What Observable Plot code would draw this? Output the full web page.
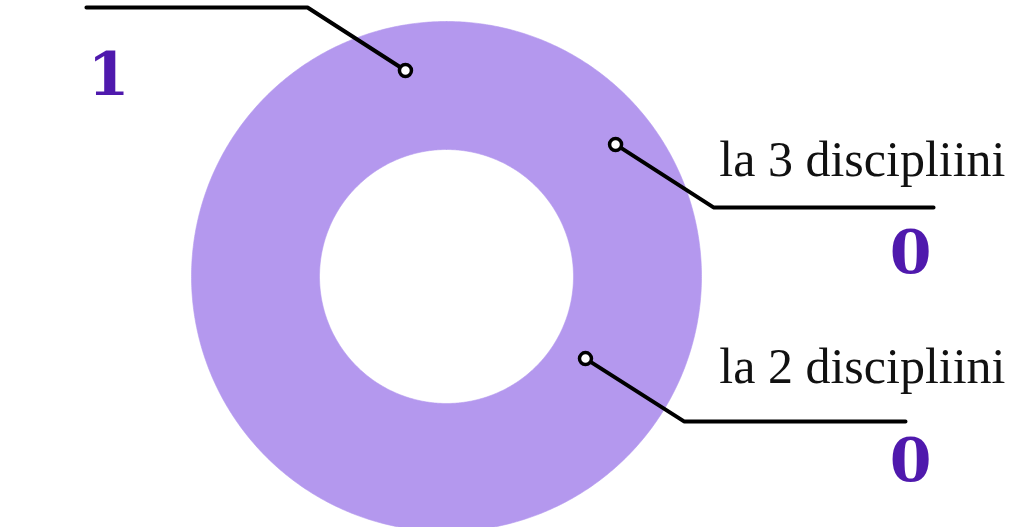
<!DOCTYPE html>
<html><head><meta charset="utf-8">
<script src="https://cdn.jsdelivr.net/npm/d3@7"></script>
<script src="https://cdn.jsdelivr.net/npm/@observablehq/plot@0.6"></script>
<style>html,body{margin:0;padding:0;background:#fff;overflow:hidden}#chart svg{display:block}</style>
</head><body><div id="chart"></div>
<script>
// ---- data ----
const categories = ["la 1 disciplină", "la 3 discipliini", "la 2 discipliini"];
const values = [1, 0, 0];
const valueLabels = ["1", "0", "0"];
const sliceColors = ["#b498ee", "#8f6fe0", "#6c46cf"];

// ---- callout layout (units of outer radius, origin at donut centre, y up) ----
const anchorX = [-0.161, 0.663, 0.545];
const anchorY = [0.808, 0.518, -0.322];
const elbowX = [-0.545, 1.047, 0.933];
const elbowY = [1.055, 0.271, -0.569];
const endX = [-1.412, 1.910, 1.800];
const endY = [1.055, 0.271, -0.569];
const labelX = [-1.45, 2.192, 2.192];
const labelY = [1.20, 0.396, -0.416];
const numberX = [-1.325, 1.820, 1.820];
const numberY = [0.710, 0.012, -0.800];
const showLabel = [false, true, true];

const outerR = 1, innerR = 0.498;

// donut slices via d3.pie
const pie = d3.pie().sort(null).value(v => v)(values);
const ring = [];
pie.forEach((s, i) => {
  if (s.endAngle - s.startAngle <= 0) return;
  const n = Math.max(2, Math.ceil((s.endAngle - s.startAngle) / (Math.PI / 360)));
  for (let k = 0; k <= n; k++) {
    const a = s.startAngle + (s.endAngle - s.startAngle) * k / n;
    ring.push({cat: categories[i], color: sliceColors[i], x: outerR * Math.sin(a), y: outerR * Math.cos(a)});
  }
  for (let k = n; k >= 0; k--) {
    const a = s.startAngle + (s.endAngle - s.startAngle) * k / n;
    ring.push({cat: categories[i], color: sliceColors[i], x: innerR * Math.sin(a), y: innerR * Math.cos(a)});
  }
});

const callouts = [];
categories.forEach((c, i) => {
  callouts.push({cat: c, x: anchorX[i], y: anchorY[i]});
  callouts.push({cat: c, x: elbowX[i], y: elbowY[i]});
  callouts.push({cat: c, x: endX[i], y: endY[i]});
});
const rows = categories.map((c, i) => ({cat: c, value: values[i], vlabel: valueLabels[i],
  ax: anchorX[i], ay: anchorY[i], lx: labelX[i], ly: labelY[i], nx: numberX[i], ny: numberY[i], show: showLabel[i]}));

const R = 255, cx = 446, cy = 276, W = 1018, H = 527;
const chart = Plot.plot({
  width: W, height: H, margin: 0,
  x: {domain: [-cx / R, (W - cx) / R], axis: null},
  y: {domain: [-(H - cy) / R, cy / R], axis: null},
  marks: [
    Plot.line(ring, {x: "x", y: "y", z: "cat", fill: "color", stroke: "color", strokeWidth: 0.6, curve: "linear"}),
    Plot.line(callouts, {x: "x", y: "y", z: "cat", stroke: "#000", strokeWidth: 4, strokeLinecap: "round", strokeLinejoin: "miter"}),
    Plot.dot(rows, {x: "ax", y: "ay", r: 6, fill: "white", stroke: "#000", strokeWidth: 3.5}),
    Plot.text(rows.filter(d => d.show), {x: "lx", y: "ly", text: "cat", textAnchor: "end", lineAnchor: "bottom",
      fontFamily: "Liberation Serif", fontSize: 50, fill: "#111"}),
    Plot.text(rows, {x: "nx", y: "ny", text: "vlabel", textAnchor: "middle", lineAnchor: "bottom",
      fontFamily: "DejaVu Serif", fontWeight: "bold", fontSize: 60, fill: "#4f19ad"})
  ]
});
document.getElementById("chart").appendChild(chart);
</script>
</body></html>
